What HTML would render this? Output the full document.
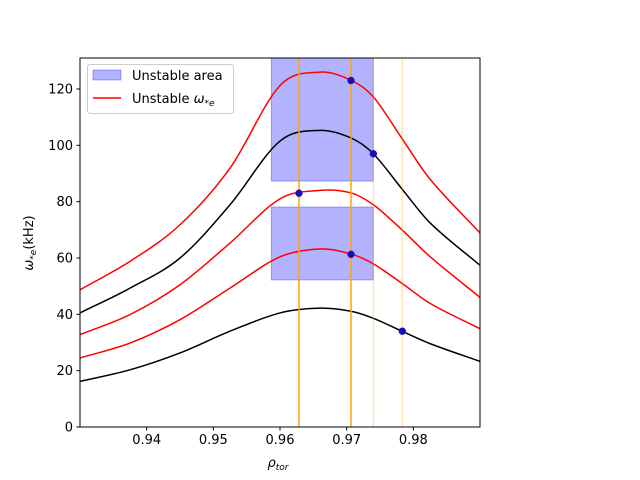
<!DOCTYPE html>
<html><head><meta charset="utf-8"><style>
body{margin:0;background:#fff;}
svg{display:block;font-family:"DejaVu Sans","Liberation Sans",sans-serif;}
</style></head><body>
<svg id="chart" width="640" height="480" xmlns="http://www.w3.org/2000/svg"></svg>
<script>
const xs = [0.93, 0.9375, 0.945, 0.9525, 0.96, 0.966, 0.97065, 0.974, 0.9783, 0.9825, 0.99];
const series1 = [16.2, 20.3, 26.3, 34.0, 40.5, 42.2, 41.1, 38.6, 34.0, 29.6, 23.3];
const series2 = [24.5, 29.8, 38.1, 49.3, 60.4, 63.2, 61.4, 57.9, 51.0, 43.9, 34.9];
const series3 = [32.8, 39.9, 50.5, 65.3, 81.0, 84.0, 83.1, 78.9, 70.0, 60.5, 46.0];
const series4 = [40.5, 49.3, 60.0, 78.9, 101.5, 105.3, 102.6, 97.0, 84.5, 72.5, 57.4];
const series5 = [48.7, 58.8, 71.8, 91.9, 121.2, 126.0, 123.1, 117.2, 102.4, 88.0, 68.9];
const seriesColors = ["#000000", "#ff0000", "#ff0000", "#000000", "#ff0000"];
const vlines = [0.96285, 0.97065, 0.974, 0.97835];
const vlineAlpha = [1, 1, 0.3, 0.3];
const areaX = [0.9587, 0.974];
const areaY1 = [87.3, 131];
const areaY2 = [52.2, 78.1];
const pointsX = [0.97065, 0.974, 0.96285, 0.97065, 0.97835];
const pointsY = [123, 97, 83, 61.3, 34];
const xTicks = [0.94, 0.95, 0.96, 0.97, 0.98];
const xTickLabels = ["0.94", "0.95", "0.96", "0.97", "0.98"];
const yTicks = [0, 20, 40, 60, 80, 100, 120];

const L = 80, R = 480, T = 58, B = 427;
const xMin = 0.93, xMax = 0.99, yMin = 0, yMax = 131;
const sx = v => L + (v - xMin) / (xMax - xMin) * (R - L);
const sy = v => B - (v - yMin) / (yMax - yMin) * (B - T);
const svg = document.getElementById('chart');
const NS = "http://www.w3.org/2000/svg";
function mk(tag, attrs, parent) {
  const e = document.createElementNS(NS, tag);
  for (const k in attrs) e.setAttribute(k, attrs[k]);
  (parent || svg).appendChild(e);
  return e;
}
const clip = mk('clipPath', {id: 'pc'});
mk('rect', {x: L, y: T, width: R - L, height: B - T}, clip);
const plot = mk('g', {'clip-path': 'url(#pc)'});



[[areaY1, 'unstable-area-upper'], [areaY2, 'unstable-area-lower']].forEach(([ay, nm]) => {
  const r = mk('rect', {x: sx(areaX[0]), y: sy(ay[1]), width: sx(areaX[1]) - sx(areaX[0]), height: sy(ay[0]) - sy(ay[1]), fill: '#0000ff', 'fill-opacity': 0.3, stroke: '#0000ff', 'stroke-opacity': 0.3}, plot);
  
  
});

function smooth(xv, yv) {
  const p = xv.map((x, i) => [sx(x), sy(yv[i])]);
  const n = p.length, m = [];
  for (let i = 0; i < n; i++) {
    if (i === 0) m.push((p[1][1] - p[0][1]) / (p[1][0] - p[0][0]));
    else if (i === n - 1) m.push((p[n-1][1] - p[n-2][1]) / (p[n-1][0] - p[n-2][0]));
    else m.push((p[i+1][1] - p[i-1][1]) / (p[i+1][0] - p[i-1][0]));
  }
  let d = `M${p[0][0]},${p[0][1]}`;
  for (let i = 0; i < n - 1; i++) {
    const h = (p[i+1][0] - p[i][0]) / 3;
    d += ` C${p[i][0] + h},${p[i][1] + m[i] * h} ${p[i+1][0] - h},${p[i+1][1] - m[i+1] * h} ${p[i+1][0]},${p[i+1][1]}`;
  }
  return d;
}
[series1, series2, series3, series4, series5].forEach((s, i) => {
  const path = mk('path', {d: smooth(xs, s), fill: 'none', stroke: seriesColors[i], 'stroke-width': 1.5}, plot);
  
  
});
vlines.forEach((v, i) => {
  const ln = mk('line', {x1: sx(v), x2: sx(v), y1: T, y2: B, stroke: '#ffa500', 'stroke-opacity': vlineAlpha[i], 'stroke-width': 1.5}, plot);
  
  
});
pointsX.forEach((v, i) => {
  const c = mk('circle', {cx: sx(v), cy: sy(pointsY[i]), r: 3.5, fill: '#1010c0', stroke: '#6010a0', 'stroke-width': 0.5}, plot);
  
  
});

const frame = mk('rect', {x: L, y: T, width: R - L, height: B - T, fill: 'none', stroke: '#000', 'stroke-width': 1});



xTicks.forEach((v, i) => {
  mk('line', {x1: sx(v), x2: sx(v), y1: B, y2: B + 3.5, stroke: '#000'});
  const t = mk('text', {x: sx(v), y: B + 17, 'font-size': 13, 'text-anchor': 'middle'});
  t.textContent = xTickLabels[i];
  
  
});
yTicks.forEach(v => {
  mk('line', {x1: L - 3.5, x2: L, y1: sy(v), y2: sy(v), stroke: '#000'});
  const t = mk('text', {x: L - 7, y: sy(v) + 4.5, 'font-size': 13, 'text-anchor': 'end'});
  t.textContent = String(v);
  
  
});
</script>
<svg style="position:absolute;left:0;top:0" width="640" height="480" xmlns="http://www.w3.org/2000/svg">
  <text x="278" y="467" font-size="13" font-style="italic" text-anchor="middle" font-family="DejaVu Sans, sans-serif">ρ<tspan font-size="9" dy="3">tor</tspan></text>
  <text transform="translate(33,243) rotate(-90)" font-size="13" text-anchor="middle" font-family="DejaVu Sans, sans-serif"><tspan font-style="italic">ω</tspan><tspan font-size="9" dy="3" font-style="italic">*e</tspan><tspan dy="-3">(kHz)</tspan></text>
  <g>
    <rect x="87.5" y="64.5" width="146" height="49" rx="3" fill="#fff" fill-opacity="0.8" stroke="#ccc"/>
    <rect x="93" y="70" width="28" height="10" fill="#0000ff" fill-opacity="0.3" stroke="#0000ff" stroke-opacity="0.3"/>
    <text x="132" y="80" font-size="13" font-family="DejaVu Sans, sans-serif">Unstable area</text>
    <line x1="93" x2="121" y1="98" y2="98" stroke="#ff0000" stroke-width="1.5"/>
    <text x="132" y="103" font-size="13" font-family="DejaVu Sans, sans-serif">Unstable <tspan font-style="italic">ω</tspan><tspan font-size="9" dy="3" font-style="italic">*e</tspan></text>
  </g>
</svg>
</body></html>
